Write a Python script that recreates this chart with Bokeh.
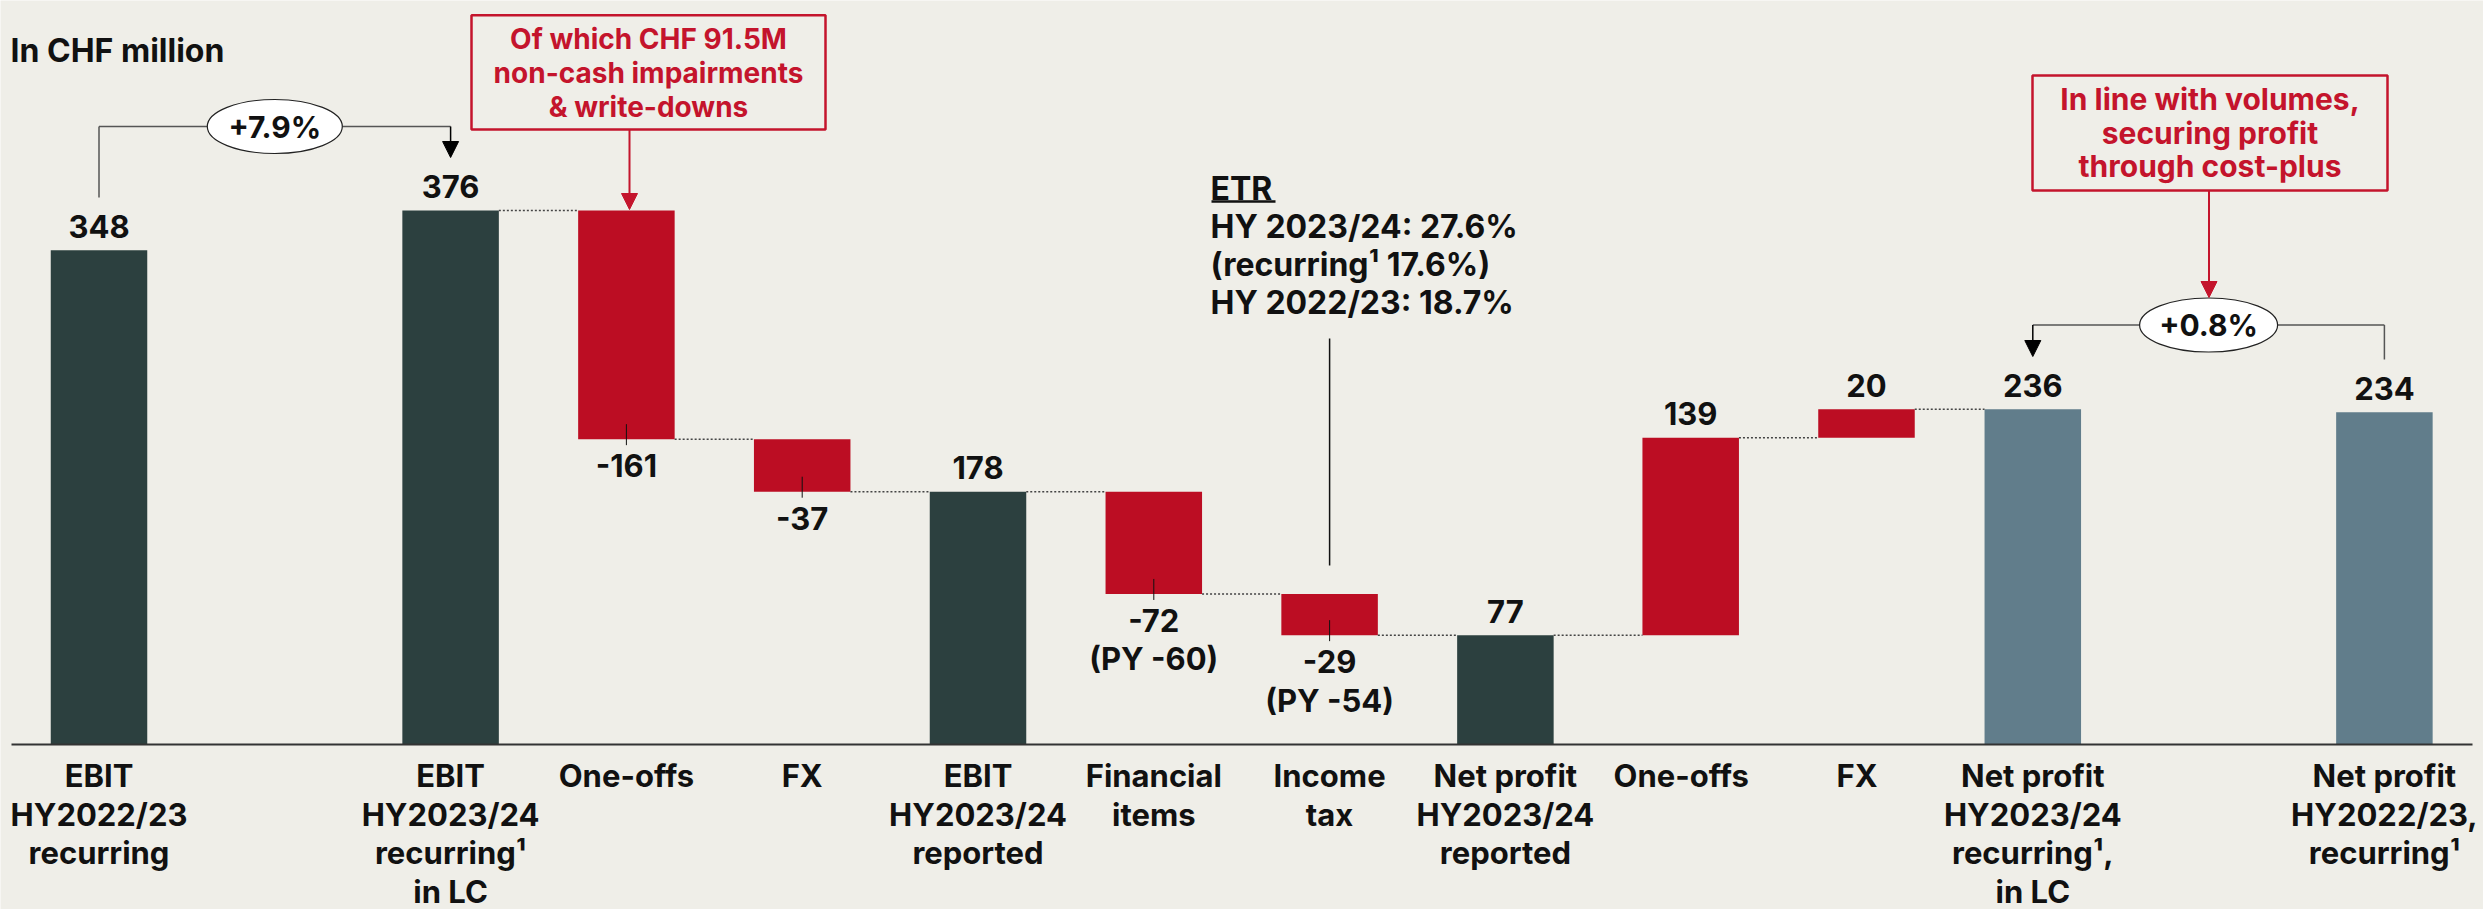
from bokeh.plotting import figure
from bokeh.models import Range1d, Arrow, NormalHead
from bokeh.core.properties import value
from bokeh.embed import file_html
from bokeh.resources import INLINE

# ---------------- data ----------------
categories = [
    "EBIT\nHY2022/23\nrecurring",
    "EBIT\nHY2023/24\nrecurring¹\nin LC",
    "One-offs",
    "FX",
    "EBIT\nHY2023/24\nreported",
    "Financial\nitems",
    "Income\ntax",
    "Net profit\nHY2023/24\nreported",
    "One-offs",
    "FX",
    "Net profit\nHY2023/24\nrecurring¹,\nin LC",
    "Net profit\nHY2022/23,\nrecurring¹",
]
values = [348, 376, -161, -37, 178, -72, -29, 77, 139, 20, 236, 234]
kinds = ["total", "total", "delta", "delta", "total", "delta", "delta",
         "total", "delta", "delta", "highlight", "highlight"]
value_labels = ["348", "376", "-161", "-37", "178", "-72", "-29",
                "77", "139", "20", "236", "234"]
prior_year_labels = ["", "", "", "", "", "(PY -60)", "(PY -54)", "", "", "", "", ""]
growth_labels = ["+7.9%", "+0.8%"]
note_impairments = ["Of which CHF 91.5M", "non-cash impairments", "& write-downs"]
note_volumes = ["In line with volumes,", "securing profit", "through cost-plus"]
etr_lines = ["ETR", "HY 2023/24: 27.6%", "(recurring¹ 17.6%)", "HY 2022/23: 18.7%"]
title_text = "In CHF million"

# ---------------- layout / style ----------------
W, H = 2483, 909
SLOT_PX = 175.8
PX_PER_UNIT = 1.4202
X0_PX = 98.5
Y0_PX = 744.0
slots = [0, 2, 3, 4, 5, 6, 7, 8, 9, 10, 11, 13]
bar_shift = [0, 0, 0, 0, 0, 0, 0, 0, 0.054, 0.054, 0, 0]
BW = 96.5 / SLOT_PX

BG = "#EFEEE8"
DARK = "#2C403F"
RED = "#BC0D23"
BLUE = "#617D8B"
NOTE_RED = "#C4142C"
INK = "#111111"
FONT = value("Inter")
color_of = {"total": DARK, "delta": RED, "highlight": BLUE}


def dx(px):
    return px / SLOT_PX


def dy(px):
    return px / PX_PER_UNIT


def rx(ref_x):
    return (ref_x - X0_PX) / SLOT_PX


def ry(ref_y):
    return (Y0_PX - ref_y) / PX_PER_UNIT


p = figure(width=W, height=H,
           x_range=Range1d(-X0_PX / SLOT_PX, (W - X0_PX) / SLOT_PX),
           y_range=Range1d((Y0_PX - H) / PX_PER_UNIT, Y0_PX / PX_PER_UNIT),
           output_backend="svg", toolbar_location=None,
           x_axis_type=None, y_axis_type=None, min_border=0,
           background_fill_color=BG, border_fill_color=BG,
           outline_line_color=None)
p.grid.visible = False


def txt(xs, ys, texts, size, color=INK, align="center"):
    p.text(x=xs, y=ys, text=texts, text_font=FONT, text_font_style="bold",
           text_font_size=size, text_align=align, text_baseline="middle",
           text_color=color)


# ---------------- waterfall geometry ----------------
bx, bottoms, tops, colors, ends = [], [], [], [], []
running = 0
for i, (v, k) in enumerate(zip(values, kinds)):
    x = slots[i] + bar_shift[i]
    if k == "delta":
        b, t = (running + v, running) if v < 0 else (running, running + v)
        running += v
    else:
        b, t = 0, v
        running = v
    bx.append(x)
    bottoms.append(b)
    tops.append(t)
    colors.append(color_of[k])
    ends.append(running)

p.vbar(x=bx, width=BW, bottom=bottoms, top=tops, fill_color=colors, line_color=None)

# connectors
cx0, cx1, cy = [], [], []
for i in range(len(values) - 1):
    if kinds[i] == "delta" or kinds[i + 1] == "delta":
        cx0.append(bx[i] + BW / 2)
        cx1.append(bx[i + 1] - BW / 2)
        cy.append(ends[i])
p.segment(x0=cx0, y0=cy, x1=cx1, y1=cy, line_color="#444444",
          line_width=1.5, line_dash="2 2")

# axis line
p.segment(x0=[rx(11)], y0=[0], x1=[rx(2472)], y1=[0], line_color="#333333", line_width=2)

# value labels
lx, ly, lt = [], [], []
tick_x, tick_y0, tick_y1 = [], [], []
for i, v in enumerate(values):
    if kinds[i] == "delta" and v < 0:
        lx.append(bx[i]); ly.append(bottoms[i] - dy(26.5)); lt.append(value_labels[i])
        tick_x.append(bx[i]); tick_y0.append(bottoms[i] + dy(15)); tick_y1.append(bottoms[i] - dy(6))
        if prior_year_labels[i]:
            lx.append(bx[i]); ly.append(bottoms[i] - dy(65)); lt.append(prior_year_labels[i])
    else:
        lx.append(bx[i]); ly.append(tops[i] + dy(24)); lt.append(value_labels[i])
txt(lx, ly, lt, "31px")
p.segment(x0=tick_x, y0=tick_y0, x1=tick_x, y1=tick_y1, line_color=INK, line_width=1)

# category labels
cxs, cys, cts = [], [], []
for i, cat in enumerate(categories):
    for j, line in enumerate(cat.split("\n")):
        cxs.append(slots[i]); cys.append(-dy(31 + 38.5 * j)); cts.append(line)
txt(cxs, cys, cts, "31px")

# title
txt([rx(10)], [ry(50)], [title_text], "32px", align="left")

# ---- growth annotation 1 (+7.9%) ----
yc1 = ry(126)
p.multi_line(xs=[[slots[0], slots[0]], [slots[0], slots[1]]],
             ys=[[ry(197), yc1], [yc1, yc1]], line_color="#555555", line_width=1.5)
p.add_layout(Arrow(end=NormalHead(size=16, fill_color="black", line_color="black"),
                   x_start=slots[1], y_start=yc1, x_end=slots[1], y_end=ry(157),
                   line_color="black", line_width=1.5))
p.ellipse(x=[(slots[0] + slots[1]) / 2], y=[yc1], width=dx(135), height=dy(54),
          fill_color="white", line_color="#222222", line_width=1.2)
txt([(slots[0] + slots[1]) / 2], [yc1], [growth_labels[0]], "30px")

# ---- note box 1 ----
p.quad(left=[rx(471)], right=[rx(825)], top=[ry(14.7)], bottom=[ry(129)],
       fill_color=BG, line_color=NOTE_RED, line_width=2.5)
txt([rx(648)] * 3, [ry(38), ry(72), ry(106)], note_impairments, "28px", color=NOTE_RED)
p.add_layout(Arrow(end=NormalHead(size=16, fill_color=NOTE_RED, line_color=NOTE_RED),
                   x_start=rx(629), y_start=ry(129), x_end=rx(629), y_end=ry(209),
                   line_color=NOTE_RED, line_width=2))

# ---- ETR note ----
txt([rx(1210)] * 4, [ry(187.5), ry(225.5), ry(263.5), ry(301.5)], etr_lines, "32px", align="left")
p.segment(x0=[rx(1211)], y0=[ry(201)], x1=[rx(1275)], y1=[ry(201)],
          line_color=INK, line_width=2.5)
p.segment(x0=[slots[6]], y0=[ry(338)], x1=[slots[6]], y1=[ry(565)],
          line_color=INK, line_width=1.5)

# ---- note box 2 ----
p.quad(left=[rx(2032)], right=[rx(2387)], top=[ry(75)], bottom=[ry(190)],
       fill_color=BG, line_color=NOTE_RED, line_width=2.5)
txt([rx(2209.5)] * 3, [ry(98), ry(132), ry(165)], note_volumes, "30px", color=NOTE_RED)
p.add_layout(Arrow(end=NormalHead(size=16, fill_color=NOTE_RED, line_color=NOTE_RED),
                   x_start=rx(2208.5), y_start=ry(190), x_end=rx(2208.5), y_end=ry(297),
                   line_color=NOTE_RED, line_width=2))

# ---- growth annotation 2 (+0.8%) ----
yc2 = ry(324.5)
xm2 = (slots[10] + slots[11]) / 2
p.multi_line(xs=[[slots[10], slots[11]], [slots[11], slots[11]]],
             ys=[[yc2, yc2], [yc2, ry(359)]], line_color="#555555", line_width=1.5)
p.add_layout(Arrow(end=NormalHead(size=16, fill_color="black", line_color="black"),
                   x_start=slots[10], y_start=yc2, x_end=slots[10], y_end=ry(356),
                   line_color="black", line_width=1.5))
p.ellipse(x=[xm2], y=[yc2], width=dx(138), height=dy(54),
          fill_color="white", line_color="#222222", line_width=1.2)
txt([xm2], [yc2], [growth_labels[1]], "30px")

open("out.html", "w").write(file_html(p, INLINE))
